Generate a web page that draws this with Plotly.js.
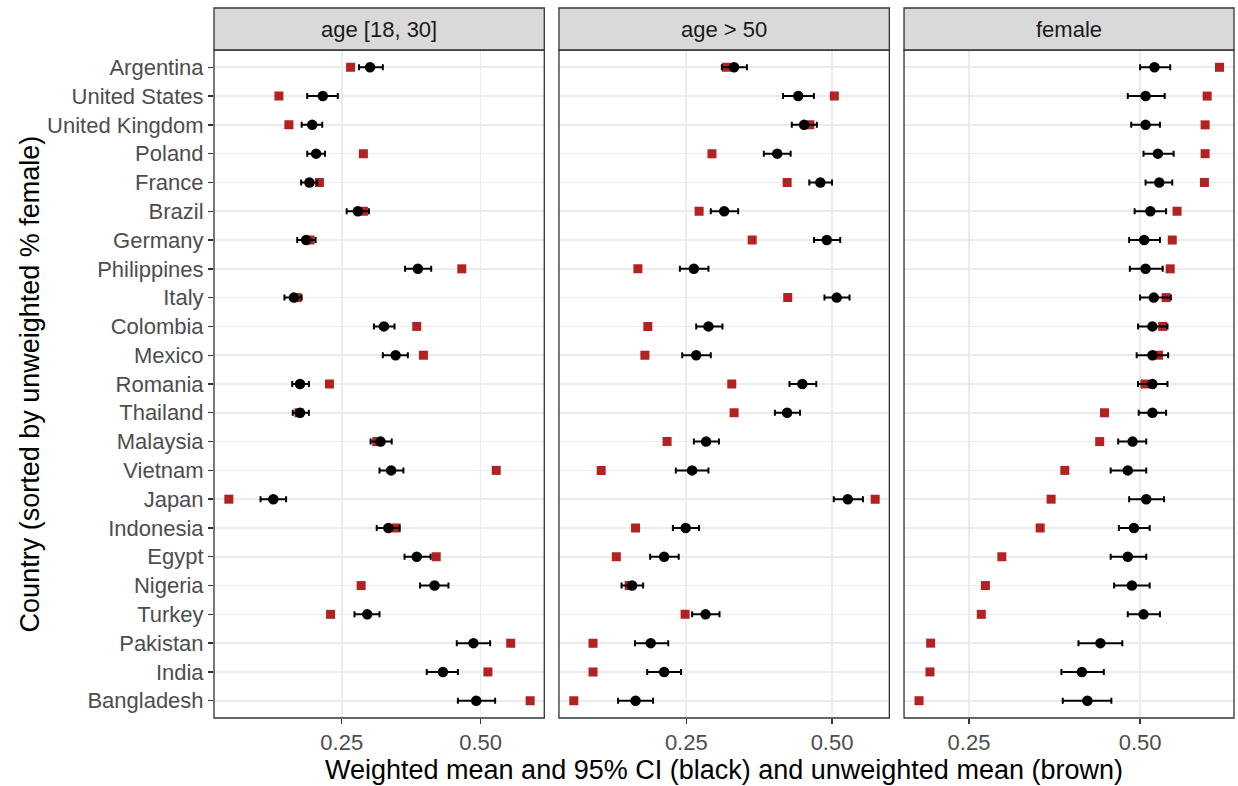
<!DOCTYPE html>
<html>
<head>
<meta charset="utf-8">
<script src="https://cdn.plot.ly/plotly-3.0.1.min.js"></script>
<style>html,body{margin:0;padding:0;background:#fff;}#chart{width:1238px;height:786px;}</style>
</head>
<body>
<div id="chart"></div>
<script>
const countries = ["Argentina","United States","United Kingdom","Poland","France","Brazil","Germany","Philippines","Italy","Colombia","Mexico","Romania","Thailand","Malaysia","Vietnam","Japan","Indonesia","Egypt","Nigeria","Turkey","Pakistan","India","Bangladesh"];

const facetNames = ["age [18, 30]", "age > 50", "female"];

// age [18, 30]
const youngWeighted = [0.301,0.216,0.197,0.204,0.192,0.279,0.186,0.387,0.164,0.326,0.347,0.175,0.175,0.320,0.339,0.127,0.334,0.385,0.417,0.296,0.487,0.432,0.492];
const youngLow      = [0.281,0.188,0.178,0.188,0.177,0.259,0.170,0.364,0.147,0.308,0.324,0.161,0.162,0.302,0.318,0.104,0.313,0.363,0.391,0.273,0.457,0.403,0.459];
const youngHigh     = [0.324,0.243,0.215,0.220,0.206,0.299,0.203,0.411,0.178,0.345,0.369,0.191,0.191,0.340,0.361,0.150,0.354,0.410,0.442,0.318,0.517,0.459,0.526];
const youngUnweighted = [0.266,0.137,0.155,0.289,0.210,0.289,0.193,0.466,0.170,0.385,0.397,0.228,0.173,0.313,0.528,0.047,0.348,0.420,0.285,0.230,0.554,0.513,0.589];

// age > 50
const oldWeighted = [0.332,0.442,0.452,0.406,0.480,0.315,0.491,0.263,0.508,0.288,0.267,0.449,0.423,0.284,0.260,0.527,0.249,0.212,0.157,0.283,0.189,0.212,0.163];
const oldLow      = [0.311,0.416,0.431,0.383,0.461,0.292,0.469,0.239,0.487,0.267,0.243,0.427,0.402,0.263,0.232,0.503,0.227,0.188,0.139,0.260,0.162,0.183,0.133];
const oldHigh     = [0.354,0.469,0.474,0.429,0.500,0.339,0.514,0.288,0.530,0.312,0.292,0.473,0.445,0.306,0.288,0.553,0.272,0.237,0.176,0.307,0.219,0.241,0.193];
const oldUnweighted = [0.319,0.504,0.462,0.294,0.423,0.272,0.363,0.167,0.424,0.184,0.179,0.328,0.332,0.217,0.104,0.574,0.163,0.130,0.152,0.248,0.090,0.090,0.057];

// female
const femaleWeighted = [0.521,0.508,0.508,0.526,0.528,0.515,0.506,0.508,0.520,0.518,0.518,0.518,0.518,0.489,0.482,0.509,0.491,0.482,0.488,0.505,0.442,0.415,0.423];
const femaleLow      = [0.500,0.482,0.487,0.505,0.508,0.492,0.484,0.485,0.500,0.497,0.495,0.497,0.498,0.468,0.457,0.484,0.469,0.457,0.462,0.482,0.410,0.385,0.387];
const femaleHigh     = [0.544,0.536,0.529,0.549,0.547,0.538,0.529,0.533,0.545,0.540,0.541,0.540,0.538,0.509,0.509,0.535,0.514,0.509,0.514,0.529,0.474,0.447,0.458];
const femaleUnweighted = [0.616,0.598,0.595,0.595,0.594,0.554,0.547,0.544,0.538,0.533,0.527,0.507,0.448,0.441,0.390,0.370,0.354,0.298,0.274,0.268,0.194,0.193,0.177];

const tickValues = [0.25, 0.5];
const tickLabels = ["0.25", "0.50"];

const FONT = "Liberation Sans, Arial, Helvetica, sans-serif";
const panels = [
  {w: youngWeighted, lo: youngLow, hi: youngHigh, u: youngUnweighted, xa: "x",  range: [0.0203, 0.6144], domain: [0, 0.3238]},
  {w: oldWeighted,   lo: oldLow,   hi: oldHigh,   u: oldUnweighted,   xa: "x2", range: [0.0316, 0.5983], domain: [0.3382, 0.6621]},
  {w: femaleWeighted,lo: femaleLow,hi: femaleHigh,u: femaleUnweighted,xa: "x3", range: [0.1551, 0.6372], domain: [0.6765, 1]}
];

const traces = [];
panels.forEach(p => {
  traces.push({
    type: "scatter", mode: "markers", x: p.u, y: countries, xaxis: p.xa, yaxis: "y",
    marker: {symbol: "square", size: 9, color: "#B22222"}, hoverinfo: "x+y", showlegend: false
  });
  traces.push({
    type: "scatter", mode: "markers", x: p.w, y: countries, xaxis: p.xa, yaxis: "y",
    marker: {symbol: "circle", size: 10.5, color: "#000000"},
    error_x: {type: "data", symmetric: false,
      array: p.hi.map((h, i) => h - p.w[i]),
      arrayminus: p.lo.map((l, i) => p.w[i] - l),
      color: "#000000", thickness: 2, width: 3},
    hoverinfo: "x+y", showlegend: false
  });
});

const axisCommon = {
  tickvals: tickValues, ticktext: tickLabels, showgrid: true, gridcolor: "#EBEBEB", gridwidth: 1.6,
  zeroline: false, ticks: "outside", ticklen: 5, tickwidth: 1.4, tickcolor: "#333333",
  tickfont: {family: FONT, size: 22, color: "#4D4D4D"}, anchor: "y", showline: false, fixedrange: true
};

const layout = {
  width: 1238, height: 786,
  margin: {l: 214, r: 4, t: 50, b: 68},
  paper_bgcolor: "#ffffff", plot_bgcolor: "#ffffff",
  showlegend: false,
  yaxis: {
    type: "category", categoryorder: "array", categoryarray: countries,
    range: [22.6, -0.6], showgrid: true, gridcolor: "#EBEBEB", gridwidth: 1.6, zeroline: false,
    ticks: "outside", ticklen: 5, tickwidth: 1.4, tickcolor: "#333333",
    tickfont: {family: FONT, size: 22, color: "#4D4D4D"}, fixedrange: true
  },
  shapes: [], annotations: []
};
panels.forEach((p, i) => {
  const key = i === 0 ? "xaxis" : "xaxis" + (i + 1);
  layout[key] = Object.assign({}, axisCommon, {domain: p.domain, range: p.range});
  layout.shapes.push({type: "rect", xref: p.xa + " domain", yref: "y domain", x0: 0, x1: 1, y0: 0, y1: 1,
    line: {color: "#333333", width: 1.3}, fillcolor: "rgba(0,0,0,0)", layer: "above"});
  layout.shapes.push({type: "rect", xref: p.xa + " domain", yref: "paper", x0: 0, x1: 1, y0: 1, y1: 1.0629,
    line: {color: "#333333", width: 1.3}, fillcolor: "#D9D9D9", layer: "above"});
  layout.annotations.push({xref: p.xa + " domain", yref: "paper", x: 0.5, y: 1.0314, xanchor: "center", yanchor: "middle",
    text: facetNames[i], showarrow: false, font: {family: FONT, size: 22, color: "#1A1A1A"}});
});
layout.annotations.push({xref: "paper", yref: "paper", x: 0.5, y: -0.0778, xanchor: "center", yanchor: "middle",
  text: "Weighted mean and 95% CI (black) and unweighted mean (brown)", showarrow: false,
  font: {family: FONT, size: 27, color: "#000000"}});
layout.annotations.push({xref: "paper", yref: "paper", x: -0.180, y: 0.5, xanchor: "center", yanchor: "middle",
  text: "Country (sorted by unweighted % female)", textangle: -90, showarrow: false,
  font: {family: FONT, size: 27, color: "#000000"}});

Plotly.newPlot("chart", traces, layout, {displayModeBar: false, staticPlot: true});
</script>
</body>
</html>
